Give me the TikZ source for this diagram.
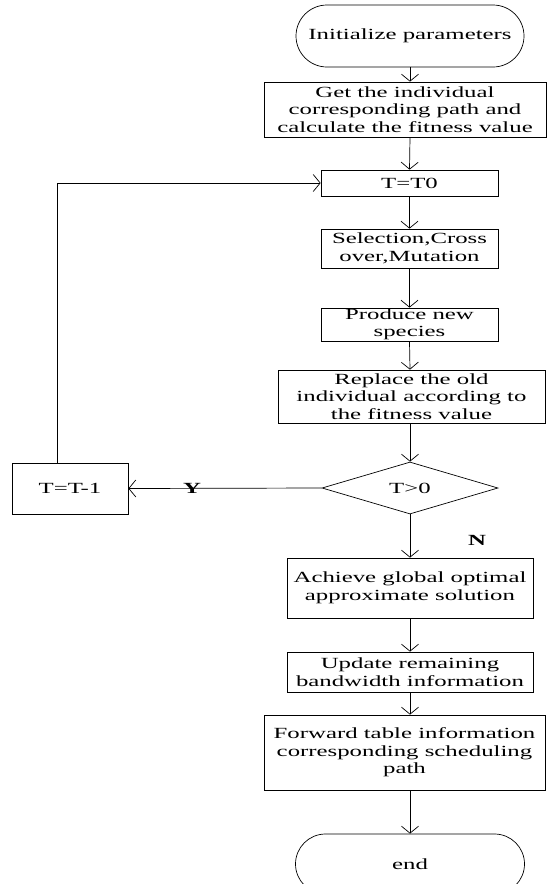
\documentclass[tikz,border=0pt]{standalone}
\usepackage{fontspec}
\setmainfont{Liberation Serif}[FakeStretch=1.6]
\usetikzlibrary{arrows.meta,shapes.geometric,shapes.misc}
\begin{document}
\begin{tikzpicture}[x=1pt,y=-1pt,
  every node/.style={font=\fontsize{15.5}{17.5}\selectfont, align=center, inner sep=0pt},
  proc/.style={draw, rectangle, line width=0.7pt},
  term/.style={draw, rounded rectangle, line width=0.7pt},
  dec/.style={draw, diamond, line width=0.7pt},
  lbl/.style={font=\fontsize{15.5}{17.5}\selectfont\bfseries},
  arr/.style={-{Straight Barb[length=7pt,width=17pt]}, line width=0.7pt}]
\useasboundingbox (0,0) rectangle (547,884);
\coordinate (ax) at (410,0);
\coordinate (lp) at (57,183);
\node[term, minimum width=228pt, minimum height=62pt] (init) at (410,36) {Initialize parameters};
\node[proc, minimum width=282pt, minimum height=55pt] (b1) at (405,109.5) {Get the individual\\corresponding path and\\calculate the fitness value};
\node[proc, minimum width=177pt, minimum height=26pt] (t0) at (409.5,183) {T=T0};
\node[proc, minimum width=177pt, minimum height=39pt] (sel) at (409.5,248.5) {Selection,Cross\\over,Mutation};
\node[proc, minimum width=177pt, minimum height=33pt] (prod) at (409.5,324.5) {Produce new\\species};
\node[proc, minimum width=267pt, minimum height=53pt] (rep) at (411.5,396.5) {Replace the old\\individual according to\\the fitness value};
\node[dec, minimum width=176pt, minimum height=48pt] (dia) at (410,488) {T>0};
\node[proc, minimum width=116pt, minimum height=51pt] (tm1) at (70,488.5) {T=T-1};
\node[proc, minimum width=246pt, minimum height=60pt] (ach) at (410,588) {Achieve global optimal\\approximate solution};
\node[proc, minimum width=246pt, minimum height=40pt] (upd) at (410,672) {Update remaining\\bandwidth information};
\node[proc, minimum width=281pt, minimum height=75pt] (fwd) at (404.5,752.5) {Forward table information\\corresponding scheduling\\path};
\node[term, minimum width=229pt, minimum height=60pt] (end) at (410,864) {end};
\node[lbl] (ylab) at (192,488) {Y};
\node[lbl] (nlab) at (477,540) {N};
\draw[arr] (init.south) -- (b1.north -| ax);
\draw[arr] (b1.south -| ax) -- (t0.north);
\draw[arr] (t0.south) -- (sel.north);
\draw[arr] (sel.south) -- (prod.north);
\draw[arr] (prod.south) -- (rep.north -| ax);
\draw[arr] (rep.south -| ax) -- (dia.north);
\draw[arr] (dia.south) -- (ach.north);
\draw[arr] (ach.south) -- (upd.north);
\draw[arr] (upd.south) -- (fwd.north -| ax);
\draw[arr] (fwd.south -| ax) -- (end.north);
\draw[arr] (dia.west) -- (tm1.east);
\draw[arr] (tm1.north -| lp) |- (t0.west);
\end{tikzpicture}
\end{document}
